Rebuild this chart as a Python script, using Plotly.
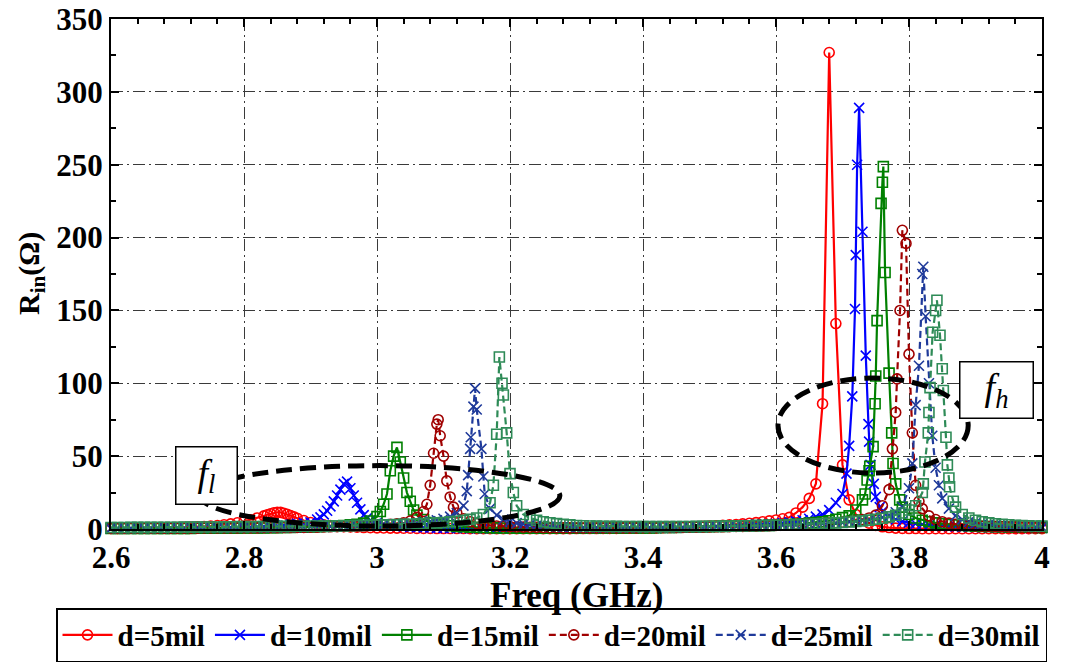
import plotly.graph_objects as go

# ---------------- data ----------------
# base sampling grid 2.60 ... 4.00 GHz, step 0.01 GHz
FREQ = [round(2.60 + 0.01 * i, 2) for i in range(141)]

# d = 5 mil
d5_base = [
    0.4, 0.4, 0.5, 0.5, 0.5, 0.6, 0.6, 0.7, 0.8, 0.9,
    1.0, 1.1, 1.3, 1.5, 1.7, 2.0, 2.4, 2.9, 3.5, 4.3,
    5.2, 6.3, 7.6, 9.0, 10.5, 11.5, 10.8, 9.2, 7.4, 5.8,
    4.5, 3.5, 2.8, 2.3, 1.9, 1.6, 1.4, 1.2, 1.0, 0.9,
    0.8, 0.7, 0.6, 0.6, 0.5, 0.5, 0.4, 0.4, 0.4, 0.3,
    0.3, 0.3, 0.3, 0.3, 0.2, 0.2, 0.2, 0.2, 0.2, 0.2,
    0.2, 0.2, 0.2, 0.2, 0.2, 0.2, 0.2, 0.2, 0.2, 0.2,
    0.3, 0.3, 0.3, 0.3, 0.4, 0.4, 0.4, 0.5, 0.5, 0.6,
    0.6, 0.7, 0.8, 0.9, 1.0, 1.1, 1.3, 1.4, 1.6, 1.8,
    2.0, 2.2, 2.5, 2.8, 3.1, 3.5, 3.9, 4.4, 5.0, 5.6,
    6.2, 7.0, 8.0, 11, 15, 21, 31, 86, 327, 141,
    44, 20, 10, 6.0, 4.0, 2.5, 1.5, 1.0, 0.6, 0.4,
    0.3, 0.3, 0.2, 0.2, 0.2, 0.2, 0.2, 0.2, 0.2, 0.2,
    0.2, 0.2, 0.2, 0.2, 0.2, 0.2, 0.2, 0.2, 0.2, 0.2,
    0.2]
d5_extra_f = [2.835, 2.845, 2.855, 2.865, 2.875]
d5_extra_r = [9.8, 11.2, 11.4, 10.1, 8.3]

# d = 10 mil
d10_base = [
    0.3, 0.3, 0.3, 0.3, 0.3, 0.3, 0.4, 0.4, 0.4, 0.4,
    0.5, 0.5, 0.5, 0.6, 0.6, 0.7, 0.7, 0.8, 0.9, 1.0,
    1.1, 1.2, 1.4, 1.6, 1.8, 2.1, 2.5, 3.0, 3.6, 4.0,
    4.5, 6.5, 10, 15.5, 23, 31, 28, 18, 9.5, 6.0,
    4.3, 3.3, 2.6, 2.1, 1.7, 1.4, 1.2, 1.0, 0.9, 0.8,
    0.7, 0.6, 0.5, 0.5, 0.4, 0.4, 0.4, 0.3, 0.3, 0.3,
    0.3, 0.3, 0.3, 0.3, 0.3, 0.3, 0.3, 0.3, 0.3, 0.3,
    0.3, 0.3, 0.3, 0.3, 0.3, 0.4, 0.4, 0.4, 0.4, 0.5,
    0.5, 0.6, 0.6, 0.7, 0.8, 0.9, 1.0, 1.1, 1.2, 1.4,
    1.6, 1.8, 2.0, 2.2, 2.4, 2.6, 2.8, 3.0, 3.2, 3.4,
    3.6, 4.0, 4.5, 5.2, 6.0, 7.0, 8.5, 10, 13, 18,
    24, 57, 188, 204, 60, 22, 12, 8.5, 6.5, 5.2,
    4.3, 3.6, 3.1, 2.7, 2.4, 2.1, 1.9, 1.7, 1.6, 1.4,
    1.3, 1.2, 1.1, 1.0, 1.0, 0.9, 0.9, 0.8, 0.8, 0.7,
    0.7]
d10_extra_f = [2.915, 2.925, 2.935, 2.945, 2.955, 2.965, 2.975, 2.985,
               3.706, 3.7147, 3.7188, 3.722, 3.725, 3.735, 3.739, 3.742, 3.747, 3.756]
d10_extra_r = [8.0, 12.5, 19, 27, 32.5, 23, 13.5, 7.5,
               38, 91, 151, 250, 289, 119, 72, 44, 31, 15]

# d = 15 mil
d15_base = [
    0.3, 0.3, 0.3, 0.3, 0.3, 0.3, 0.3, 0.4, 0.4, 0.4,
    0.4, 0.4, 0.4, 0.5, 0.5, 0.5, 0.5, 0.6, 0.6, 0.6,
    0.7, 0.7, 0.8, 0.8, 0.9, 0.9, 1.0, 1.1, 1.2, 1.3,
    1.4, 1.5, 1.7, 1.9, 2.1, 2.4, 2.8, 3.3, 4.0, 5.5,
    8.5, 17, 40, 56, 35, 19, 9.5, 6.5, 4.5, 3.4,
    2.7, 2.2, 1.8, 1.5, 1.3, 1.1, 1.0, 0.9, 0.8, 0.7,
    0.7, 0.6, 0.6, 0.5, 0.5, 0.5, 0.5, 0.5, 0.5, 0.5,
    0.5, 0.5, 0.5, 0.5, 0.5, 0.6, 0.6, 0.6, 0.7, 0.7,
    0.8, 0.8, 0.9, 1.0, 1.0, 1.1, 1.2, 1.3, 1.4, 1.5,
    1.6, 1.7, 1.8, 1.9, 2.0, 2.1, 2.2, 2.3, 2.4, 2.5,
    2.6, 2.8, 3.0, 3.3, 3.6, 4.0, 4.5, 5.0, 5.7, 6.7,
    7.8, 9.0, 13, 20, 40, 105, 238, 107, 31, 15,
    10, 7.5, 6.0, 5.0, 4.2, 3.6, 3.1, 2.7, 2.4, 2.2,
    2.0, 1.8, 1.7, 1.6, 1.5, 1.4, 1.3, 1.2, 1.2, 1.1,
    1.1]
d15_extra_f = [3.005, 3.015, 3.025, 3.035, 3.045, 3.055,
               3.734, 3.737, 3.741, 3.746, 3.749, 3.752, 3.758, 3.7614, 3.764, 3.774, 3.776, 3.786]
d15_extra_r = [12, 24, 50, 46, 25, 13,
               24, 33.6, 43, 56.5, 86, 143, 223.5, 248.7, 176, 66, 45, 20]

# d = 20 mil
d20_base = [
    0.4, 0.4, 0.4, 0.5, 0.5, 0.5, 0.5, 0.5, 0.6, 0.6,
    0.6, 0.6, 0.6, 0.6, 0.7, 0.7, 0.7, 0.7, 0.7, 0.8,
    0.8, 0.8, 0.8, 0.9, 0.9, 0.9, 1.0, 1.0, 1.1, 1.1,
    1.2, 1.3, 1.4, 1.5, 1.6, 1.7, 1.8, 2.0, 2.2, 2.4,
    2.6, 2.9, 3.2, 3.6, 4.2, 5.5, 8.0, 12, 30, 72,
    50, 22, 11, 7.0, 5.0, 3.8, 3.0, 2.5, 2.1, 1.8,
    1.6, 1.4, 1.3, 1.2, 1.1, 1.0, 0.9, 0.9, 0.8, 0.8,
    0.7, 0.7, 0.7, 0.7, 0.7, 0.7, 0.8, 0.8, 0.8, 0.8,
    0.9, 0.9, 0.9, 1.0, 1.0, 1.1, 1.1, 1.2, 1.2, 1.3,
    1.4, 1.5, 1.5, 1.6, 1.7, 1.8, 1.9, 2.0, 2.1, 2.3,
    2.4, 2.6, 2.8, 3.0, 3.2, 3.4, 3.6, 3.8, 4.0, 4.3,
    4.6, 5.0, 5.6, 6.4, 7.6, 9.5, 16, 27, 80, 205,
    120, 30, 14, 9.0, 6.5, 5.0, 4.0, 3.3, 2.8, 2.4,
    2.1, 1.9, 1.7, 1.6, 1.5, 1.4, 1.3, 1.2, 1.1, 1.0,
    1.0]
d20_extra_f = [3.075, 3.085, 3.092, 3.095, 3.105, 3.115,
               3.775, 3.782, 3.7865, 3.7955, 3.805, 3.815]
d20_extra_r = [17, 52, 75, 64, 33, 15,
               55, 103, 150, 196, 66, 19]

# d = 25 mil
d25_base = [
    0.5, 0.5, 0.5, 0.5, 0.5, 0.6, 0.6, 0.6, 0.6, 0.6,
    0.7, 0.7, 0.7, 0.7, 0.8, 0.8, 0.8, 0.8, 0.9, 0.9,
    0.9, 1.0, 1.0, 1.0, 1.1, 1.1, 1.2, 1.2, 1.3, 1.3,
    1.4, 1.5, 1.5, 1.6, 1.7, 1.8, 1.9, 2.0, 2.2, 2.3,
    2.5, 2.7, 2.9, 3.1, 3.4, 3.7, 4.1, 4.6, 5.2, 6.0,
    7.0, 8.5, 11, 16, 55, 82, 36, 14, 9.5, 6.5,
    5.0, 4.0, 3.3, 2.8, 2.4, 2.1, 1.9, 1.7, 1.5, 1.4,
    1.3, 1.2, 1.1, 1.1, 1.0, 1.0, 1.0, 1.0, 1.0, 1.0,
    1.0, 1.0, 1.0, 1.1, 1.1, 1.1, 1.2, 1.2, 1.3, 1.3,
    1.4, 1.5, 1.5, 1.6, 1.7, 1.8, 1.9, 2.0, 2.1, 2.2,
    2.3, 2.4, 2.6, 2.7, 2.9, 3.1, 3.3, 3.5, 3.8, 4.1,
    4.4, 4.8, 5.2, 5.7, 6.3, 7.0, 8.0, 9.5, 11.5, 15,
    28, 85, 175, 100, 42, 21, 14, 9.0, 6.5, 5.0,
    4.0, 3.4, 2.9, 2.5, 2.2, 2.0, 1.8, 1.7, 1.6, 1.5,
    1.4]
d25_extra_f = [3.135, 3.137, 3.141, 3.145, 3.1474, 3.157, 3.162,
               3.805, 3.815, 3.8215, 3.825, 3.835, 3.845]
d25_extra_r = [26, 37, 63, 84, 96.5, 55, 24,
               45, 112, 180, 146, 64, 30]

# d = 30 mil
d30_base = [
    1.0, 1.0, 1.0, 1.1, 1.1, 1.1, 1.1, 1.2, 1.2, 1.2,
    1.2, 1.3, 1.3, 1.3, 1.4, 1.4, 1.4, 1.5, 1.5, 1.6,
    1.6, 1.6, 1.7, 1.7, 1.7, 1.8, 1.8, 1.8, 1.9, 1.9,
    2.0, 2.0, 2.1, 2.1, 2.2, 2.2, 2.3, 2.4, 2.5, 2.6,
    2.7, 2.8, 2.9, 3.0, 3.2, 3.3, 3.5, 3.7, 3.9, 4.2,
    4.5, 4.9, 5.3, 5.9, 6.6, 7.5, 10, 18, 65, 92,
    38, 16, 10, 7.5, 6.0, 5.0, 4.3, 3.7, 3.2, 2.8,
    2.4, 2.2, 2.1, 2.0, 1.9, 1.8, 1.8, 1.7, 1.7, 1.7,
    1.6, 1.6, 1.6, 1.6, 1.6, 1.7, 1.7, 1.7, 1.8, 1.8,
    1.9, 1.9, 2.0, 2.0, 2.1, 2.2, 2.2, 2.3, 2.4, 2.5,
    2.6, 2.7, 2.8, 3.0, 3.1, 3.3, 3.5, 3.7, 3.9, 4.2,
    4.5, 4.8, 5.2, 5.6, 6.1, 6.7, 7.4, 8.3, 9.4, 11,
    13, 16, 25, 80, 150, 110, 35, 15, 10, 7.5,
    6.0, 5.0, 4.2, 3.6, 3.2, 2.9, 2.6, 2.4, 2.2, 2.1,
    2.0]
d30_extra_f = [3.175, 3.184, 3.188, 3.195, 3.205,
               3.8215, 3.824, 3.829, 3.8316, 3.8355, 3.842, 3.8466, 3.8516, 3.8556, 3.8577, 3.861, 3.8666]
d30_extra_r = [30, 118, 100, 66, 25,
               31, 46, 66, 97, 135, 157, 133, 95, 63, 44, 29, 19]

LABELS = ["d=5mil", "d=10mil", "d=15mil", "d=20mil", "d=25mil", "d=30mil"]
X_TICKS = [2.6, 2.8, 3.0, 3.2, 3.4, 3.6, 3.8, 4.0]
X_TICKTEXT = ["2.6", "2.8", "3", "3.2", "3.4", "3.6", "3.8", "4"]
Y_TICKS = [0, 50, 100, 150, 200, 250, 300, 350]

# ---------------- styling ----------------
COLORS = ["#FF0000", "#0000FF", "#008000", "#A00000", "#1F3A9A", "#2E8B57"]
SYMBOLS = ["circle-open", "x-thin-open", "square-open", "circle-open", "x-thin-open", "square-open"]
DASHES = ["solid", "solid", "solid", "7px,4px", "7px,4px", "7px,4px"]
FONT = "Liberation Serif, Times New Roman, Tinos, DejaVu Serif, serif"

PLOT_L, PLOT_R, PLOT_T, PLOT_B = 111, 1042, 19, 529
PW, PH = PLOT_R - PLOT_L, PLOT_B - PLOT_T


def merge(base, ef, er):
    pts = sorted(list(zip(FREQ, base)) + list(zip(ef, er)))
    return [p[0] for p in pts], [p[1] for p in pts]


series = [
    (d5_base, d5_extra_f, d5_extra_r),
    (d10_base, d10_extra_f, d10_extra_r),
    (d15_base, d15_extra_f, d15_extra_r),
    (d20_base, d20_extra_f, d20_extra_r),
    (d25_base, d25_extra_f, d25_extra_r),
    (d30_base, d30_extra_f, d30_extra_r),
]

fig = go.Figure()
for i, (b, ef, er) in enumerate(series):
    xs, ys = merge(b, ef, er)
    fig.add_trace(go.Scatter(
        x=xs, y=ys, mode="lines+markers", name=LABELS[i],
        line=dict(color=COLORS[i], width=2.2, dash=DASHES[i]),
        marker=dict(symbol=SYMBOLS[i], size=10, color=COLORS[i],
                    line=dict(color=COLORS[i], width=1.6)),
        cliponaxis=False,
    ))

# dashed ellipses marking the two resonance groups
fig.add_shape(type="circle", xref="x", yref="y", x0=2.734, x1=3.275, y0=2.0, y1=43.5,
              line=dict(color="black", width=5, dash="16px,8px"), layer="above")
fig.add_shape(type="circle", xref="x", yref="y", x0=3.603, x1=3.889, y0=38.4, y1=103.6,
              line=dict(color="black", width=5, dash="16px,8px"), layer="above")

fig.add_annotation(x=2.7429, y=37.0, xref="x", yref="y", showarrow=False,
                   text="<i>f<sub>l</sub></i>", font=dict(family=FONT, size=38, color="black"),
                   bordercolor="black", borderwidth=1.5, bgcolor="white",
                   width=60, height=56, borderpad=0)
fig.add_annotation(x=3.9323, y=95.7, xref="x", yref="y", showarrow=False,
                   text="<i>f<sub>h</sub></i>", font=dict(family=FONT, size=38, color="black"),
                   bordercolor="black", borderwidth=1.5, bgcolor="white",
                   width=72, height=55, borderpad=0)

# axis titles (positions given in plot-area fractions)
fig.add_annotation(x=(31 - PLOT_L) / PW, y=0.5, xref="paper", yref="paper", showarrow=False,
                   xanchor="center", yanchor="middle",
                   text="<b>R<sub>in</sub>(Ω)</b>", textangle=-90,
                   font=dict(family=FONT, size=30, color="black"))
fig.add_annotation(x=(576 - PLOT_L) / PW, y=-(595 - PLOT_B) / PH, xref="paper", yref="paper",
                   showarrow=False, xanchor="center", yanchor="middle",
                   text="<b>Freq (GHz)</b>",
                   font=dict(family=FONT, size=35, color="black"))

axis_common = dict(
    showline=True, linecolor="black", linewidth=2, mirror="ticks",
    ticks="inside", ticklen=8, tickwidth=1.5, tickcolor="black",
    showgrid=True, gridcolor="#3a3a3a", gridwidth=1, griddash="12px,4px,2px,4px",
    zeroline=False, layer="above traces",
    tickfont=dict(family=FONT, size=31, color="black", weight="bold"),
)
fig.update_xaxes(range=[2.6, 4.0], tickvals=X_TICKS, ticktext=X_TICKTEXT,
                 minor=dict(dtick=0.04, tick0=2.6, ticks="inside", ticklen=5,
                            tickcolor="black", tickwidth=1.5, showgrid=False),
                 **axis_common)
fig.update_yaxes(range=[0, 350], tickvals=Y_TICKS,
                 minor=dict(dtick=25, tick0=0, ticks="inside", ticklen=5,
                            tickcolor="black", tickwidth=1.5, showgrid=False),
                 **axis_common)

fig.update_layout(
    width=1066, height=663,
    margin=dict(l=PLOT_L, r=1066 - PLOT_R, t=PLOT_T, b=663 - PLOT_B, autoexpand=False),
    paper_bgcolor="white", plot_bgcolor="white",
    showlegend=True,
    legend=dict(orientation="h",
                x=(56 - PLOT_L) / PW, xanchor="left",
                y=-(635 - PLOT_B) / PH, yanchor="middle",
                bordercolor="black", borderwidth=1.5, bgcolor="white",
                font=dict(family=FONT, size=29, color="black", weight="bold"),
                itemwidth=50, tracegroupgap=0),
)

fig.write_html("out.html")
